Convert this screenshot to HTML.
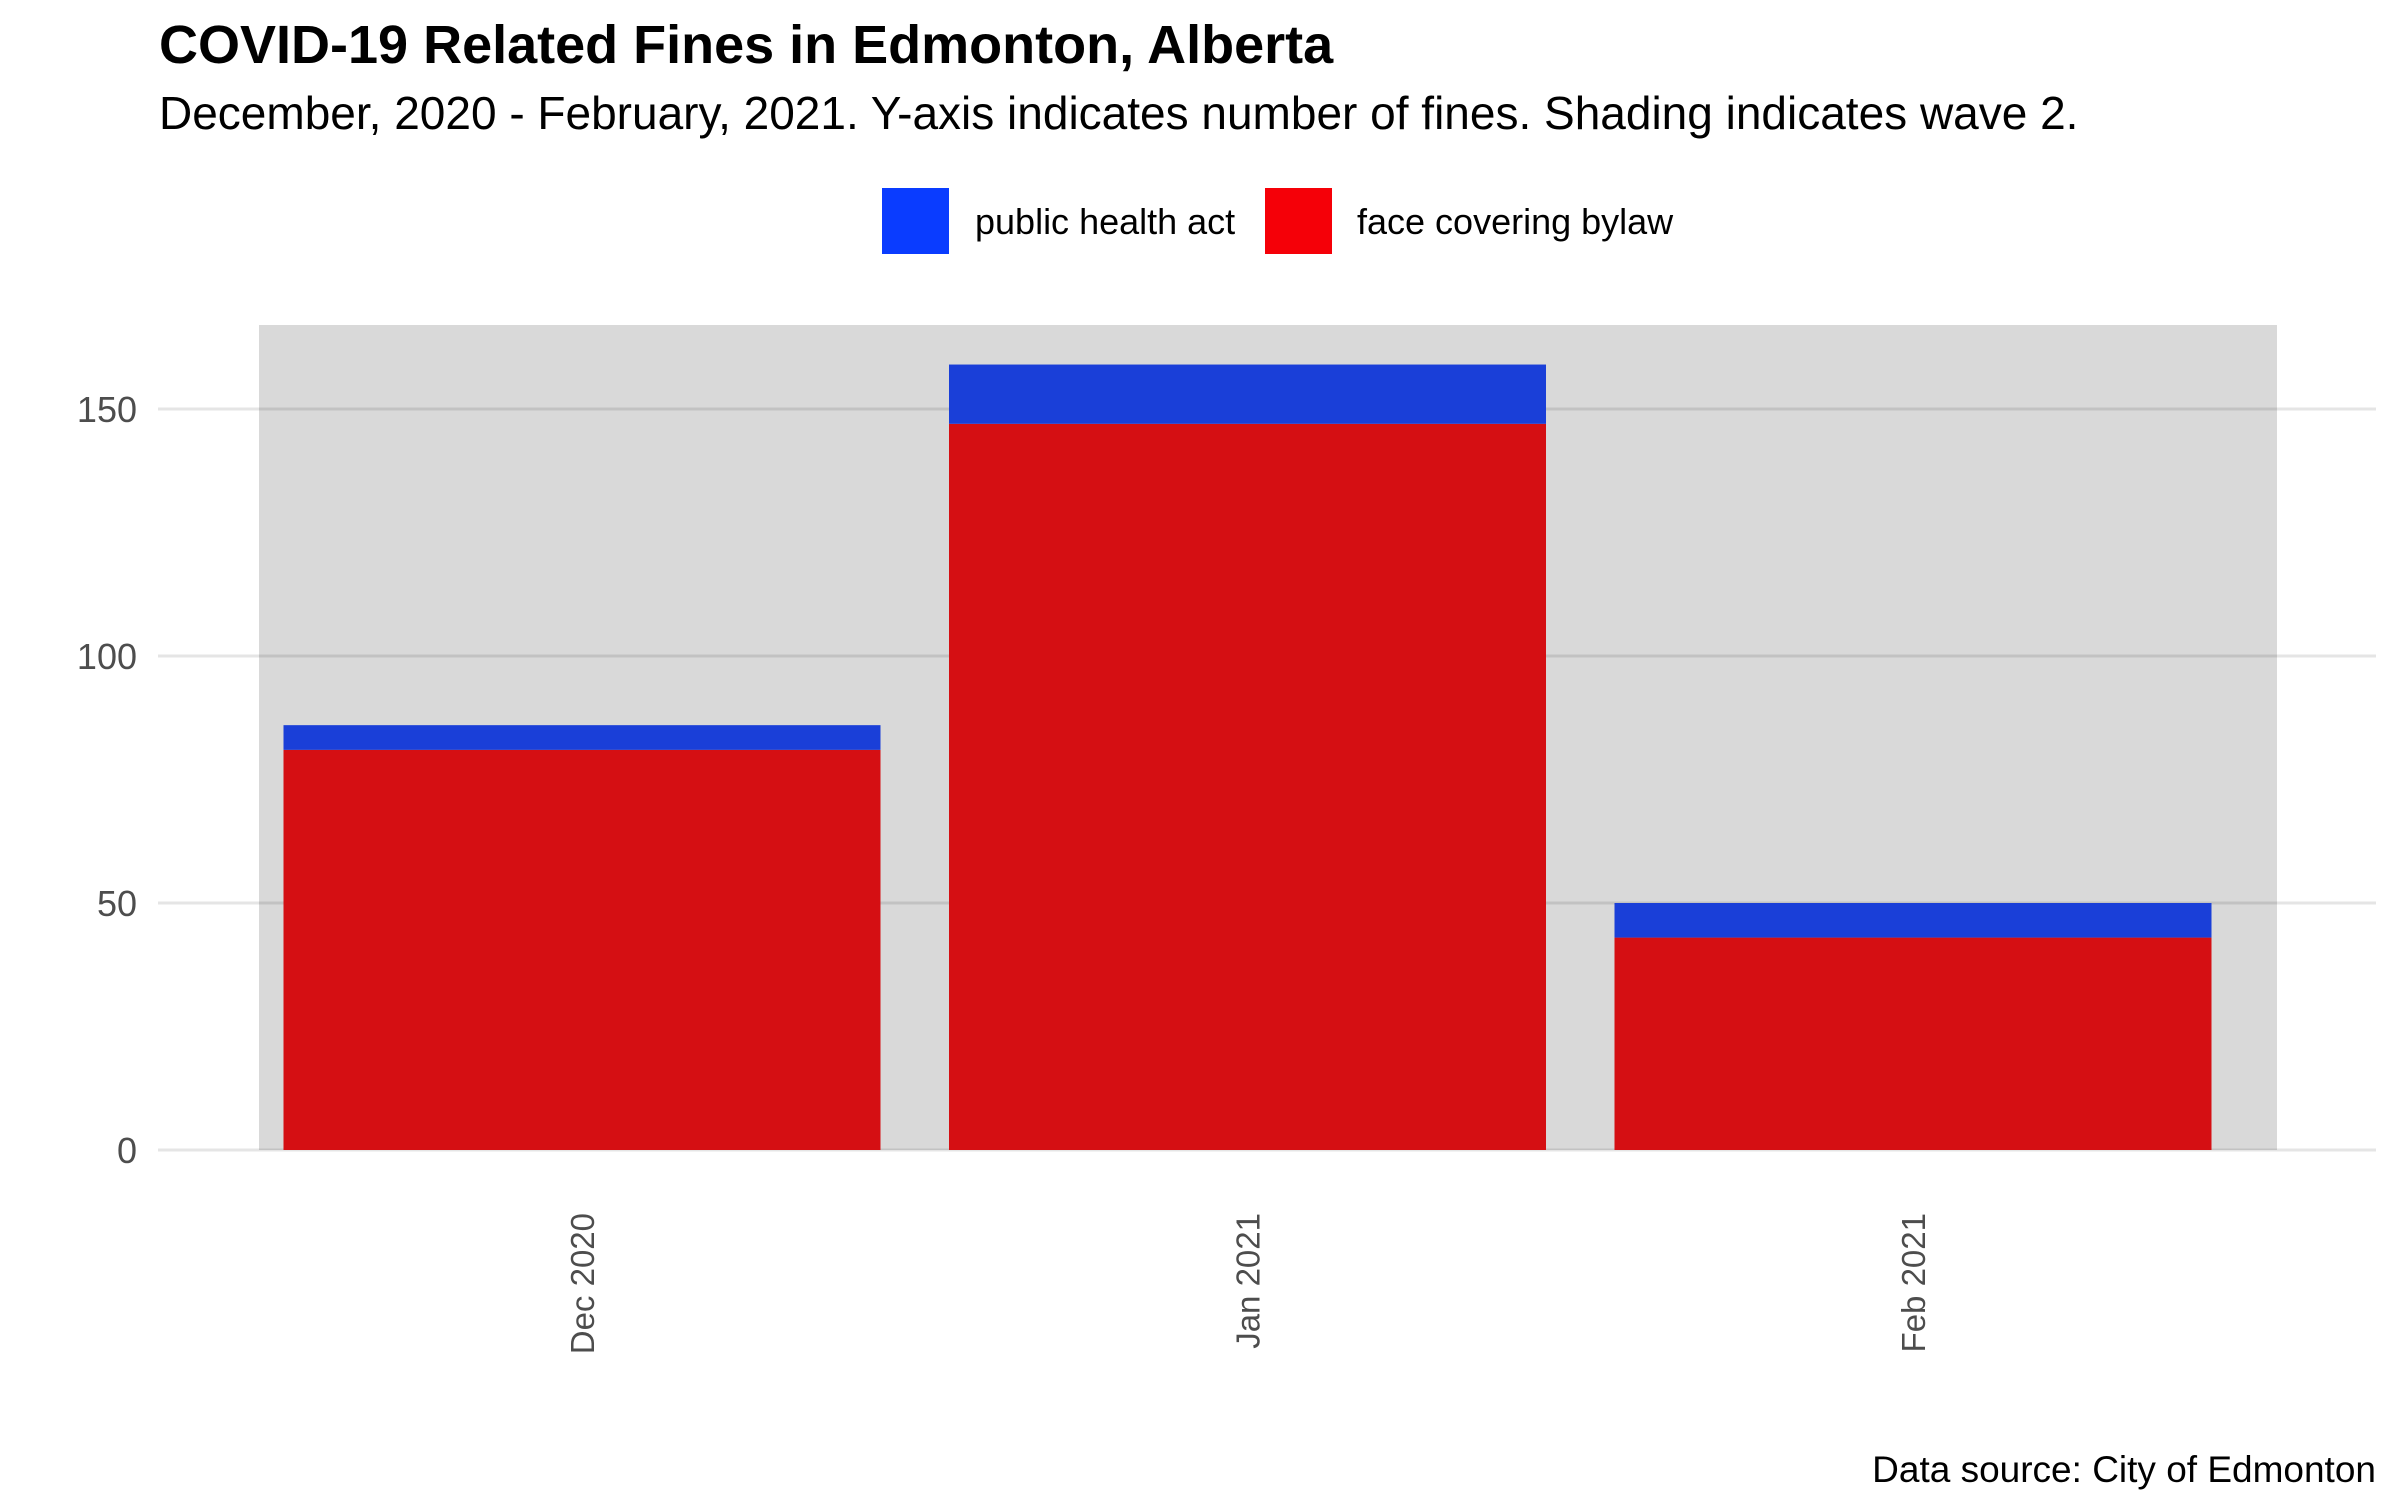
<!DOCTYPE html>
<html><head><meta charset="utf-8"><style>
html,body{margin:0;padding:0;background:#fff;}
svg{display:block;font-family:"Liberation Sans",Arial,sans-serif;}
</style></head><body>
<svg id="chart" width="2400" height="1500" viewBox="0 0 2400 1500">
<text x="159" y="63" font-size="54" font-weight="bold" fill="#000">COVID-19 Related Fines in Edmonton, Alberta</text>
<text x="159" y="129" font-size="46" fill="#000">December, 2020 - February, 2021. Y-axis indicates number of fines. Shading indicates wave 2.</text>
<g>
<g>
<rect x="882" y="188" width="67" height="66" fill="#0A3CFF"/>
<text x="975" y="234" font-size="36" fill="#000">public health act</text>
</g>
<g>
<rect x="1265" y="188" width="67" height="66" fill="#F50008"/>
<text x="1357" y="234" font-size="36" fill="#000">face covering bylaw</text>
</g>
</g>
<rect x="259" y="325" width="2018" height="825" fill="#D9D9D9"/>
<g id="grid"></g>
<g id="bars"></g>
<g id="yaxis"></g>
<g id="xaxis"></g>
<text x="2376" y="1482" font-size="37" text-anchor="end" fill="#000">Data source: City of Edmonton</text>
</svg>
<script>
const categories = ["Dec 2020", "Jan 2021", "Feb 2021"];
const faceCovering = [81, 147, 43];
const publicHealth = [5, 12, 7];
const yTicks = [0, 50, 100, 150];

const NS = "http://www.w3.org/2000/svg";
const y0 = 1150, pxPerUnit = 4.94;
function y(v){ return y0 - v * pxPerUnit; }
const xStart = 582, xStep = 665.5, barW = 597;
function x(i){ return xStart + i * xStep; }
function mk(tag, attrs, parent){ const e = document.createElementNS(NS, tag); for (const k in attrs) e.setAttribute(k, attrs[k]); parent.appendChild(e); return e; }

const grid = document.getElementById("grid");
const yaxis = document.getElementById("yaxis");
yTicks.forEach(t => {
  const l = mk("line", {x1:158, x2:2376, y1:y(t), y2:y(t), stroke:"rgba(0,0,0,0.1)", "stroke-width":3}, grid);
  
  
  const tx = mk("text", {x:137, y:y(t)+13, "font-size":36, "text-anchor":"end", fill:"#4D4D4D"}, yaxis);
  tx.textContent = t;
  
  
});

const bars = document.getElementById("bars");
const xaxis = document.getElementById("xaxis");
categories.forEach((c, i) => {
  const cx = x(i);
  const red = mk("rect", {x:cx-barW/2, y:y(faceCovering[i]), width:barW, height:y(0)-y(faceCovering[i]), fill:"#D50F13"}, bars);
  
  
  const tot = faceCovering[i] + publicHealth[i];
  const blue = mk("rect", {x:cx-barW/2, y:y(tot), width:barW, height:y(faceCovering[i])-y(tot), fill:"#1A3FD8"}, bars);
  
  
  const tx = mk("text", {x:0, y:0, "font-size":33, "text-anchor":"end", fill:"#4D4D4D", transform:"translate(" + (cx+12) + ",1213) rotate(-90)"}, xaxis);
  tx.textContent = c;
  
  
});
</script>
</body></html>
